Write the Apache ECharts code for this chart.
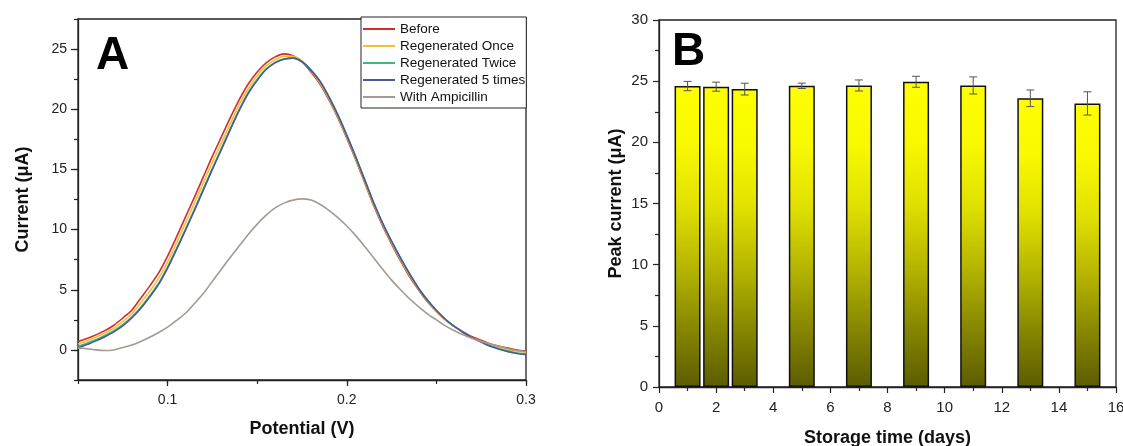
<!DOCTYPE html>
<html>
<head>
<meta charset="utf-8">
<script src="https://cdn.jsdelivr.net/npm/echarts@6/dist/echarts.min.js"></script>
<style>
html,body{margin:0;padding:0;background:#fff;}
#c{width:1123px;height:446px;}
</style>
</head>
<body>
<div id="c"></div>
<script>
// ---------- Panel A data ----------
const potentials = [0.050,0.055,0.060,0.065,0.070,0.075,0.080,0.085,0.090,0.095,
  0.100,0.105,0.110,0.115,0.120,0.125,0.130,0.135,0.140,0.145,
  0.150,0.155,0.160,0.165,0.170,0.175,0.180,0.185,0.190,0.195,
  0.200,0.205,0.210,0.215,0.220,0.225,0.230,0.235,0.240,0.245,
  0.250,0.255,0.260,0.265,0.270,0.275,0.280,0.285,0.290,0.295,0.300];
const before = [0.7,0.95,1.25,1.6,2.05,2.65,3.3,4.3,5.3,6.4,
  7.8,9.4,11.05,12.7,14.4,16.1,17.7,19.3,20.8,22.1,
  23.1,23.85,24.35,24.6,24.45,23.95,23.1,22.1,20.8,19.3,
  17.6,15.8,13.9,12.0,10.3,8.8,7.4,6.1,5.0,4.0,
  3.2,2.5,1.95,1.5,1.1,0.8,0.5,0.3,0.15,0.0,-0.1];
const regenOnce = [0.5,0.75,1.05,1.4,1.8,2.35,3.0,3.9,4.85,5.95,
  7.3,8.9,10.55,12.2,13.9,15.6,17.2,18.8,20.4,21.7,
  22.8,23.6,24.1,24.4,24.4,24.0,23.2,22.2,20.9,19.4,
  17.7,15.9,14.0,12.1,10.4,8.9,7.5,6.2,5.05,4.05,
  3.2,2.5,1.95,1.45,1.0,0.7,0.4,0.2,0.0,-0.1,-0.2];
const regenTwice = [0.3,0.55,0.85,1.2,1.6,2.1,2.75,3.55,4.5,5.55,
  6.9,8.45,10.05,11.7,13.4,15.1,16.75,18.4,20.0,21.4,
  22.5,23.35,23.9,24.2,24.25,23.95,23.25,22.3,21.0,19.5,
  17.8,16.0,14.1,12.2,10.5,9.0,7.6,6.3,5.1,4.1,
  3.25,2.55,1.95,1.45,1.0,0.65,0.35,0.1,-0.1,-0.25,-0.35];
const regen5 = [0.15,0.45,0.75,1.1,1.5,2.0,2.65,3.45,4.4,5.45,
  6.8,8.35,9.95,11.6,13.3,15.0,16.65,18.3,19.9,21.3,
  22.4,23.3,23.85,24.15,24.25,23.95,23.25,22.35,21.05,19.55,
  17.85,16.05,14.15,12.25,10.55,9.05,7.65,6.35,5.15,4.15,
  3.3,2.55,1.95,1.45,1.0,0.65,0.3,0.05,-0.15,-0.3,-0.4];
const withAmpicillin = [0.15,0.1,0.0,-0.05,0.0,0.2,0.4,0.7,1.05,1.45,
  1.9,2.45,3.05,3.85,4.7,5.7,6.7,7.7,8.65,9.6,
  10.45,11.2,11.8,12.2,12.45,12.55,12.45,12.1,11.6,11.0,
  10.3,9.5,8.6,7.65,6.7,5.8,5.0,4.25,3.6,3.0,
  2.5,2.0,1.6,1.25,0.95,0.7,0.5,0.3,0.1,-0.05,-0.15];
const seriesNamesA = ['Before','Regenerated Once','Regenerated Twice','Regenerated 5 times','With Ampicillin'];
const aXMajorTicks = [0.1,0.2,0.3];
const aYMajorTicks = [0,5,10,15,20,25];

// ---------- Panel B data ----------
const storageDays = [1,2,3,5,7,9,11,13,15];
const peakCurrent = [24.6,24.55,24.35,24.62,24.65,24.95,24.65,23.6,23.18];
const peakError = [0.38,0.37,0.48,0.22,0.45,0.45,0.7,0.68,0.95];

const colorsA = ['#d42a2a','#f2c132','#3dba7a','#4a5898','#a39a92'];
const FONT = 'Arial, "Liberation Sans", Helvetica, sans-serif';
const axisCol = '#222';

const chart = echarts.init(document.getElementById('c'), null, {renderer:'canvas'});

const lineData = [before, regenOnce, regenTwice, regen5, withAmpicillin];
const lineSeries = lineData.map((arr, k) => ({
  name: seriesNamesA[k],
  type: 'line',
  xAxisIndex: 0, yAxisIndex: 0,
  data: potentials.map((x, i) => [x, arr[i]]),
  showSymbol: false, symbol: 'none',
  smooth: 0.3,
  lineStyle: {color: colorsA[k], width: 1.6},
  itemStyle: {color: colorsA[k]},
  z: 2 + k
}));

function isMultiple(v, step) {
  const r = v / step;
  return Math.abs(r - Math.round(r)) < 1e-6;
}

const option = {
  animation: false,
  backgroundColor: '#fff',
  textStyle: {fontFamily: FONT},
  title: [
    {text: 'A', left: 96, top: 33, padding: 0,
     textStyle: {fontSize: 46, fontWeight: 'bold', color: '#000', fontFamily: FONT}},
    {text: 'B', left: 672, top: 29, padding: 0,
     textStyle: {fontSize: 46, fontWeight: 'bold', color: '#000', fontFamily: FONT}}
  ],
  legend: {
    data: seriesNamesA,
    orient: 'vertical',
    left: 361, top: 17,
    padding: [5, 1, 4, 2],
    itemGap: 3,
    itemWidth: 32, itemHeight: 2,
    icon: 'rect',
    borderColor: '#222', borderWidth: 1,
    backgroundColor: '#fff',
    textStyle: {fontSize: 13.5, color: '#111', fontFamily: FONT}
  },
  grid: [
    {left: 78, top: 19, width: 448, height: 361, show: true, borderColor: axisCol, borderWidth: 1.3,
     backgroundColor: 'transparent', containLabel: false, outerBoundsMode: 'none'},
    {left: 659, top: 20, width: 457, height: 367, show: true, borderColor: axisCol, borderWidth: 1.3,
     backgroundColor: 'transparent', containLabel: false, outerBoundsMode: 'none'}
  ],
  xAxis: [
    {gridIndex: 0, type: 'value', min: 0.05, max: 0.3, interval: 0.05, position: 'bottom',
     name: 'Potential (V)', nameLocation: 'middle', nameGap: 40,
     nameTextStyle: {fontSize: 18, fontWeight: 'bold', color: '#111', fontFamily: FONT},
     axisLine: {show: true, onZero: false, lineStyle: {color: axisCol, width: 1.3}},
     axisTick: {show: true, inside: false, length: 4, lineStyle: {color: axisCol, width: 1.2}},
     axisLabel: {fontSize: 14, color: '#222', margin: 13, fontFamily: FONT,
       formatter: v => isMultiple(v, 0.1) ? v.toFixed(1) : ''},
     splitLine: {show: false}},
    {gridIndex: 0, type: 'value', min: 0.05, max: 0.3, position: 'bottom', offset: 0,
     axisLine: {show: false, onZero: false},
     axisTick: {show: true, inside: false, length: 6, customValues: aXMajorTicks, lineStyle: {color: axisCol, width: 1.2}},
     axisLabel: {show: false},
     splitLine: {show: false}},
    {gridIndex: 1, type: 'value', min: 0, max: 16, interval: 2, position: 'bottom',
     name: 'Storage time (days)', nameLocation: 'middle', nameGap: 42,
     nameTextStyle: {fontSize: 18, fontWeight: 'bold', color: '#111', fontFamily: FONT},
     axisLine: {show: true, onZero: false, lineStyle: {color: axisCol, width: 1.3}},
     axisTick: {show: true, inside: false, length: 6, lineStyle: {color: axisCol, width: 1.2}},
     minorTick: {show: true, splitNumber: 2, length: 4, lineStyle: {color: axisCol, width: 1.2}},
     axisLabel: {fontSize: 15, color: '#222', margin: 13, fontFamily: FONT},
     splitLine: {show: false}, minorSplitLine: {show: false}}
  ],
  yAxis: [
    {gridIndex: 0, type: 'value', min: -2.5, max: 27.5, interval: 2.5, position: 'left',
     name: 'Current (μA)', nameLocation: 'middle', nameGap: 46, nameRotate: 90,
     nameTextStyle: {fontSize: 18, fontWeight: 'bold', color: '#111', fontFamily: FONT},
     axisLine: {show: true, onZero: false, lineStyle: {color: axisCol, width: 1.3}},
     axisTick: {show: true, inside: false, length: 4, lineStyle: {color: axisCol, width: 1.2}},
     axisLabel: {fontSize: 14, color: '#222', margin: 11, fontFamily: FONT,
       formatter: v => isMultiple(v, 5) ? String(Math.round(v)) : ''},
     splitLine: {show: false}},
    {gridIndex: 0, type: 'value', min: -2.5, max: 27.5, position: 'left', offset: 0,
     axisLine: {show: false, onZero: false},
     axisTick: {show: true, inside: false, length: 7, customValues: aYMajorTicks, lineStyle: {color: axisCol, width: 1.2}},
     axisLabel: {show: false},
     splitLine: {show: false}},
    {gridIndex: 1, type: 'value', min: 0, max: 30, interval: 5, position: 'left',
     name: 'Peak current (μA)', nameLocation: 'middle', nameGap: 34, nameRotate: 90,
     nameTextStyle: {fontSize: 18, fontWeight: 'bold', color: '#111', fontFamily: FONT},
     axisLine: {show: true, onZero: false, lineStyle: {color: axisCol, width: 1.3}},
     axisTick: {show: true, inside: false, length: 6, lineStyle: {color: axisCol, width: 1.2}},
     minorTick: {show: true, splitNumber: 2, length: 4, lineStyle: {color: axisCol, width: 1.2}},
     axisLabel: {fontSize: 15, color: '#222', margin: 11, fontFamily: FONT},
     splitLine: {show: false}, minorSplitLine: {show: false}}
  ],
  series: lineSeries.concat([
    {
      name: 'Peak current',
      type: 'bar',
      xAxisIndex: 2, yAxisIndex: 2,
      data: storageDays.map((d, i) => [d, peakCurrent[i]]),
      barWidth: 26,
      itemStyle: {
        color: new echarts.graphic.LinearGradient(0, 0, 0, 1, [
          {offset: 0, color: '#ffff00'},
          {offset: 0.2, color: '#f8f800'},
          {offset: 0.4, color: '#e0e000'},
          {offset: 0.6, color: '#b6b600'},
          {offset: 0.8, color: '#888800'},
          {offset: 1, color: '#5c5c00'}
        ]),
        borderColor: '#111', borderWidth: 1.5
      },
      z: 2
    },
    {
      name: 'Error',
      type: 'custom',
      xAxisIndex: 2, yAxisIndex: 2,
      data: storageDays.map((d, i) => [d, peakCurrent[i] - peakError[i], peakCurrent[i] + peakError[i]]),
      encode: {x: 0, y: [1, 2]},
      renderItem: function (params, api) {
        const lo = api.coord([api.value(0), api.value(1)]);
        const hi = api.coord([api.value(0), api.value(2)]);
        const hw = 4;
        const st = {stroke: '#555', lineWidth: 1};
        return {type: 'group', children: [
          {type: 'line', shape: {x1: lo[0], y1: lo[1], x2: hi[0], y2: hi[1]}, style: st},
          {type: 'line', shape: {x1: lo[0]-hw, y1: lo[1], x2: lo[0]+hw, y2: lo[1]}, style: st},
          {type: 'line', shape: {x1: hi[0]-hw, y1: hi[1], x2: hi[0]+hw, y2: hi[1]}, style: st}
        ]};
      },
      z: 5
    }
  ])
};
chart.setOption(option);
</script>
</body>
</html>
